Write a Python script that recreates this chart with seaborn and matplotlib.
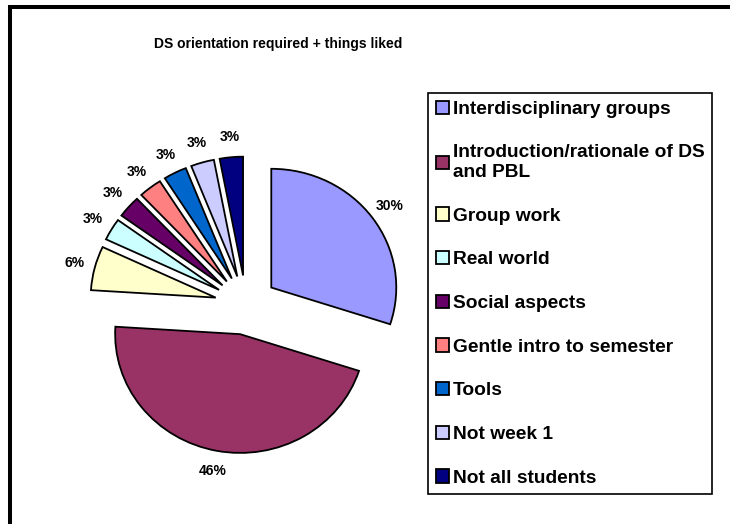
import matplotlib
matplotlib.use("Agg")
import matplotlib.pyplot as plt
from matplotlib.lines import Line2D
import seaborn as sns

# data (percent of answers)
categories = ["Interdisciplinary groups", "Introduction/rationale of DS\nand PBL",
              "Group work", "Real world", "Social aspects",
              "Gentle intro to semester", "Tools", "Not week 1", "Not all students"]
shares = [30, 46, 6, 3, 3, 3, 3, 3, 3]
colors = ["#9999FF", "#993366", "#FFFFCC", "#CCFFFF", "#660066",
          "#FF8080", "#0066CC", "#CCCCFF", "#000080"]

sns.set_theme(style="white")
plt.rcParams["font.family"] = ["Liberation Sans", "DejaVu Sans"]
plt.rcParams["text.color"] = "black"

W, H = 730, 524
fig = plt.figure(figsize=(W / 100, H / 100), dpi=100)
fig.patch.set_facecolor("white")

# axes placed so the pie centre sits at ~(246, 305) px, 125 px/unit wide, ~119 px/unit tall
ax = fig.add_axes([46 / W, 29 / H, 400 / W, 380 / H])
palette = sns.color_palette(colors)
wedges, texts, autotexts = ax.pie(
    shares, colors=palette, startangle=90, counterclock=False,
    explode=[0.25] * len(shares), autopct="%1.0f%%", pctdistance=1.17,
    wedgeprops=dict(edgecolor="black", linewidth=1.3),
    textprops=dict(fontsize=10, fontweight="bold", color="black"))
ax.set_aspect("auto")
ax.set_xlim(-1.6, 1.6)
ax.set_ylim(-1.6, 1.6)
ax.axis("off")

fig.text(278 / W, 1 - 44 / H, "DS orientation required + things liked",
         ha="center", va="center", fontsize=10, fontweight="bold", color="black")

leg = fig.legend(wedges, categories, loc="upper left",
                 bbox_to_anchor=(428 / W, 1 - 93 / H), bbox_transform=fig.transFigure,
                 borderaxespad=0, frameon=True, fancybox=False, framealpha=1,
                 edgecolor="black", prop=dict(size=13.8, weight="bold"),
                 handlelength=0.7, handleheight=0.7, handletextpad=0.2,
                 labelspacing=1.37, borderpad=0.4)
leg.get_frame().set_linewidth(1.2)
for t in leg.get_texts():
    t.set_color("black")

# chart-area border (only top and left visible)
fig.add_artist(Line2D([10 / W, 10 / W, 1.0], [0.0, 1 - 7 / H, 1 - 7 / H],
                      transform=fig.transFigure, color="black", linewidth=2.9,
                      solid_joinstyle="miter"))

fig.savefig("out.png", dpi=100)
